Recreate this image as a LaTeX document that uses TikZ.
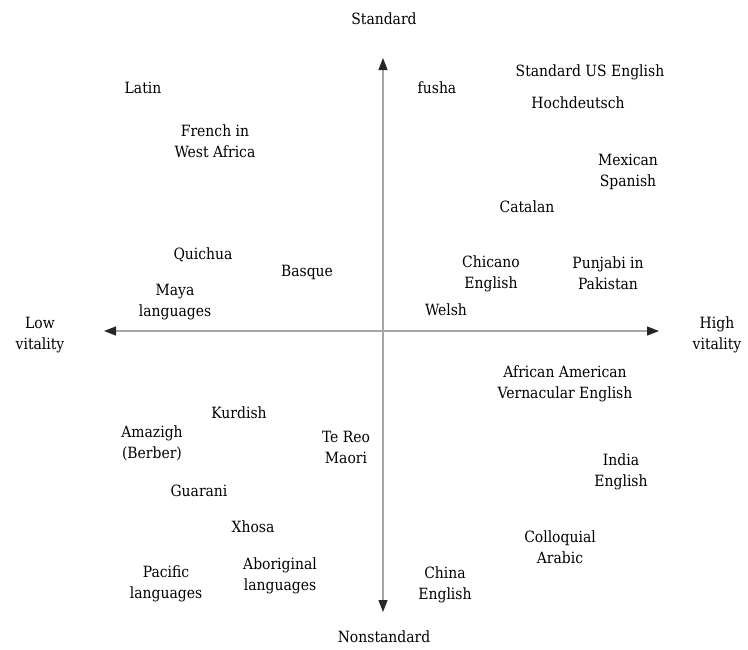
\documentclass[tikz,border=0pt]{standalone}
\usepackage{fontspec}
\setmainfont{DejaVu Serif Condensed}
\usetikzlibrary{arrows.meta}
\tikzset{
  lang/.style={align=center, font=\fontsize{15.5}{21}\selectfont, inner sep=0pt},
  axis/.style={draw=black!35, line width=1.3pt, -{Triangle[length=12pt,width=9pt,color=black!85]}}
}
\begin{document}
\begin{tikzpicture}[x=1pt, y=-1pt]
\useasboundingbox (0,0) rectangle (748,649);

\coordinate (top) at (383, 58);
\coordinate (bottom) at (383, 612);
\coordinate (left) at (104, 331);
\coordinate (right) at (659, 331);
\coordinate (o) at (383, 331);

\draw[axis] (o) -- (top);
\draw[axis] (o) -- (bottom);
\draw[axis] (o) -- (left);
\draw[axis] (o) -- (right);

\node (std) at (384, 19) [lang] {Standard};
\node (nonstd) at (384, 637) [lang] {Nonstandard};
\node (low) at (40, 335) [lang] {Low\\vitality};
\node (high) at (717, 335) [lang] {High\\vitality};

\node (latin) at (143, 88) [lang] {Latin};
\node (fusha) at (437, 88) [lang] {fusha};
\node (usenglish) at (590, 72) [lang] {Standard US English};
\node (hochdeutsch) at (578, 103) [lang] {Hochdeutsch};
\node (french) at (215, 141) [lang] {French in\\West Africa};
\node (mexican) at (628, 172) [lang] {Mexican\\Spanish};
\node (catalan) at (527, 207) [lang] {Catalan};
\node (quichua) at (203, 255) [lang] {Quichua};
\node (basque) at (307, 272) [lang] {Basque};
\node (chicano) at (491, 274) [lang] {Chicano\\English};
\node (punjabi) at (608, 273) [lang] {Punjabi in\\Pakistan};
\node (maya) at (175, 302) [lang] {Maya\\languages};
\node (welsh) at (446, 310) [lang] {Welsh};

\node (aave) at (565, 384) [lang] {African American\\Vernacular English};
\node (kurdish) at (239, 413) [lang] {Kurdish};
\node (amazigh) at (152, 443) [lang] {Amazigh\\(Berber)};
\node (tereo) at (346, 447) [lang] {Te Reo\\Maori};
\node (india) at (621, 472) [lang] {India\\English};
\node (guarani) at (199, 491) [lang] {Guarani};
\node (xhosa) at (253, 527) [lang] {Xhosa};
\node (colloquial) at (560, 547) [lang] {Colloquial\\Arabic};
\node (pacific) at (166, 584) [lang] {Pacific\\languages};
\node (aboriginal) at (280, 576) [lang] {Aboriginal\\languages};
\node (china) at (445, 585) [lang] {China\\English};
\end{tikzpicture}
\end{document}
